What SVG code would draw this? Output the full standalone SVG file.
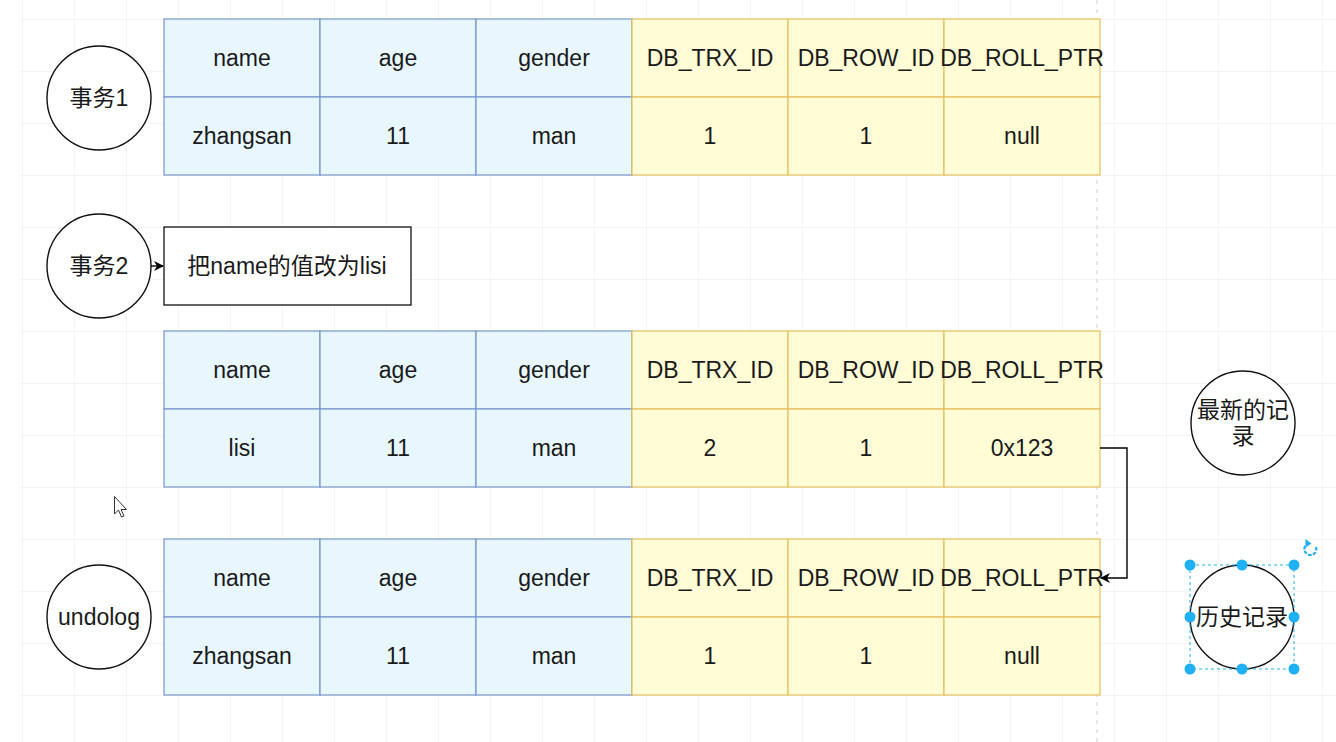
<svg xmlns="http://www.w3.org/2000/svg" width="1336" height="742" viewBox="0 0 1336 742">
<defs>
<pattern id="grid" x="22" y="19" width="52" height="52" patternUnits="userSpaceOnUse">
<path d="M0 0H52M0 0V52" fill="none" stroke="#e9e9e9" stroke-width="1"/>
</pattern>
<marker id="arr" viewBox="0 0 10 10" refX="9" refY="5" markerWidth="10" markerHeight="10" markerUnits="userSpaceOnUse" orient="auto">
<path d="M0 0L10 5L0 10L3 5Z" fill="#000"/>
</marker>
<style>
text{font-family:"Liberation Sans",Arial,"Noto Sans CJK SC",sans-serif;font-size:23px;fill:#1a1a1a;text-anchor:middle;dominant-baseline:central}
.b{fill:#e7f7fd;stroke:#7596cc;stroke-width:1.2}
.y{fill:#fffcd6;stroke:#e6bf5e;stroke-width:1.2}
.c{fill:#fff;stroke:#111;stroke-width:1.4}
.h{fill:#1fb0f5}
</style>
</defs>
<rect width="1336" height="742" fill="#fff"/>
<rect x="21" y="0" width="1315" height="742" fill="url(#grid)"/>
<line x1="1097" y1="0" x2="1097" y2="742" stroke="#cfcfcf" stroke-dasharray="4 5"/>

<g id="t1">
<rect class="b" x="164" y="19" width="156" height="78"/><text x="242" y="58">name</text>
<rect class="b" x="320" y="19" width="156" height="78"/><text x="398" y="58">age</text>
<rect class="b" x="476" y="19" width="156" height="78"/><text x="554" y="58">gender</text>
<rect class="y" x="632" y="19" width="156" height="78"/><text x="710" y="58">DB_TRX_ID</text>
<rect class="y" x="788" y="19" width="156" height="78"/><text x="866" y="58">DB_ROW_ID</text>
<rect class="y" x="944" y="19" width="156" height="78"/><text x="1022" y="58">DB_ROLL_PTR</text>
<rect class="b" x="164" y="97" width="156" height="78"/><text x="242" y="136">zhangsan</text>
<rect class="b" x="320" y="97" width="156" height="78"/><text x="398" y="136">11</text>
<rect class="b" x="476" y="97" width="156" height="78"/><text x="554" y="136">man</text>
<rect class="y" x="632" y="97" width="156" height="78"/><text x="710" y="136">1</text>
<rect class="y" x="788" y="97" width="156" height="78"/><text x="866" y="136">1</text>
<rect class="y" x="944" y="97" width="156" height="78"/><text x="1022" y="136">null</text>
</g>

<g id="t2">
<rect class="b" x="164" y="331" width="156" height="78"/><text x="242" y="370">name</text>
<rect class="b" x="320" y="331" width="156" height="78"/><text x="398" y="370">age</text>
<rect class="b" x="476" y="331" width="156" height="78"/><text x="554" y="370">gender</text>
<rect class="y" x="632" y="331" width="156" height="78"/><text x="710" y="370">DB_TRX_ID</text>
<rect class="y" x="788" y="331" width="156" height="78"/><text x="866" y="370">DB_ROW_ID</text>
<rect class="y" x="944" y="331" width="156" height="78"/><text x="1022" y="370">DB_ROLL_PTR</text>
<rect class="b" x="164" y="409" width="156" height="78"/><text x="242" y="448">lisi</text>
<rect class="b" x="320" y="409" width="156" height="78"/><text x="398" y="448">11</text>
<rect class="b" x="476" y="409" width="156" height="78"/><text x="554" y="448">man</text>
<rect class="y" x="632" y="409" width="156" height="78"/><text x="710" y="448">2</text>
<rect class="y" x="788" y="409" width="156" height="78"/><text x="866" y="448">1</text>
<rect class="y" x="944" y="409" width="156" height="78"/><text x="1022" y="448">0x123</text>
</g>

<g id="t3">
<rect class="b" x="164" y="539" width="156" height="78"/><text x="242" y="578">name</text>
<rect class="b" x="320" y="539" width="156" height="78"/><text x="398" y="578">age</text>
<rect class="b" x="476" y="539" width="156" height="78"/><text x="554" y="578">gender</text>
<rect class="y" x="632" y="539" width="156" height="78"/><text x="710" y="578">DB_TRX_ID</text>
<rect class="y" x="788" y="539" width="156" height="78"/><text x="866" y="578">DB_ROW_ID</text>
<rect class="y" x="944" y="539" width="156" height="78"/><text x="1022" y="578">DB_ROLL_PTR</text>
<rect class="b" x="164" y="617" width="156" height="78"/><text x="242" y="656">zhangsan</text>
<rect class="b" x="320" y="617" width="156" height="78"/><text x="398" y="656">11</text>
<rect class="b" x="476" y="617" width="156" height="78"/><text x="554" y="656">man</text>
<rect class="y" x="632" y="617" width="156" height="78"/><text x="710" y="656">1</text>
<rect class="y" x="788" y="617" width="156" height="78"/><text x="866" y="656">1</text>
<rect class="y" x="944" y="617" width="156" height="78"/><text x="1022" y="656">null</text>
</g>

<g id="tx1"><circle class="c" cx="99" cy="98" r="52"/><text x="99" y="98">事务1</text></g>
<g id="tx2"><circle class="c" cx="99" cy="266" r="52"/><text x="99" y="266">事务2</text></g>
<g id="op"><rect x="164" y="227" width="247" height="78" fill="#fff" stroke="#111" stroke-width="1.3"/><text x="287" y="266">把name的值改为lisi</text></g>
<g id="undolog"><circle class="c" cx="99" cy="617" r="52"/><text x="99" y="617">undolog</text></g>
<g id="latest"><circle class="c" cx="1243" cy="423" r="52"/><text x="1243" y="410">最新的记</text><text x="1243" y="436">录</text></g>
<g id="history"><circle class="c" cx="1242" cy="617" r="52"/><text x="1242" y="617">历史记录</text></g>

<g id="connectors" fill="none" stroke="#000" stroke-width="1.4">
<line x1="151" y1="266" x2="163" y2="266" marker-end="url(#arr)"/>
<path d="M1100 448H1127V578H1101" marker-end="url(#arr)"/>
</g>

<g id="selection">
<rect x="1190" y="565" width="104" height="104" fill="none" stroke="#1fb0f5" stroke-width="1" stroke-dasharray="3 3"/>
<circle class="h" cx="1190" cy="565" r="5.5"/><circle class="h" cx="1242" cy="565" r="5.5"/><circle class="h" cx="1294" cy="565" r="5.5"/>
<circle class="h" cx="1190" cy="617" r="5.5"/><circle class="h" cx="1294" cy="617" r="5.5"/>
<circle class="h" cx="1190" cy="669" r="5.5"/><circle class="h" cx="1242" cy="669" r="5.5"/><circle class="h" cx="1294" cy="669" r="5.5"/>
<path d="M1316 547A6 6 0 1 1 1308.5 543.3" fill="none" stroke="#1fb0f5" stroke-width="2.2" stroke-dasharray="3.5 1.5"/>
<path d="M1305.5 539L1311.5 543.5L1305.5 547.5Z" fill="#1fb0f5"/>
</g>

<path d="M114.5 496.5V514L118.5 510L121.5 517L124 516L121 509.5H126.5Z" fill="#fff" stroke="#333" stroke-width="1"/>
</svg>
